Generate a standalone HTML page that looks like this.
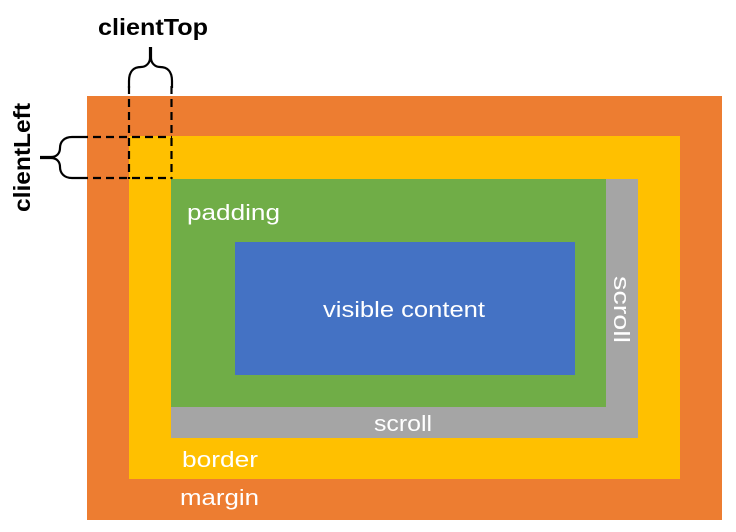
<!DOCTYPE html>
<html><head><meta charset="utf-8"><style>
html,body{margin:0;padding:0;background:#fff;}
svg{display:block;}
text{font-family:"Liberation Sans",sans-serif;}
</style></head><body>
<svg width="736" height="532" viewBox="0 0 736 532" xmlns="http://www.w3.org/2000/svg">
<rect x="87" y="96" width="635" height="424" fill="#ED7D31"/>
<rect x="129" y="136" width="551" height="343" fill="#FFC000"/>
<rect x="171" y="179" width="435" height="228" fill="#70AD47"/>
<rect x="606" y="179" width="32" height="259" fill="#A5A5A5"/>
<rect x="171" y="407" width="467" height="31" fill="#A5A5A5"/>
<rect x="235" y="242" width="340" height="133" fill="#4472C4"/>
<g stroke="#000" stroke-width="2.2" fill="none" stroke-dasharray="8,5">
<line x1="129" y1="86" x2="129" y2="179"/>
<line x1="171.5" y1="86" x2="171.5" y2="179"/>
<line x1="80" y1="137" x2="172" y2="137"/>
<line x1="80" y1="178" x2="172" y2="178"/>
</g>
<g stroke="#000" stroke-width="2.2" fill="none">
<path d="M129,88 V81 C129,71 134,67 141,67 C146,67 150,63 150,58 V47"/>
<path d="M172,88 V81 C172,71 167,67 160,67 C155,67 151,63 151,58 V47"/>
<path d="M80,137 H72 C64,137 60,142 60,148 C60,153 57,157 51,157 H40"/>
<path d="M80,178 H72 C64,178 60,173 60,167 C60,162 57,158 51,158 H40"/>
</g>
<text x="98" y="35" font-size="23" font-weight="bold" textLength="110" lengthAdjust="spacingAndGlyphs" fill="#000">clientTop</text>
<text transform="translate(30,212) rotate(-90)" font-size="23" font-weight="bold" textLength="109" lengthAdjust="spacingAndGlyphs" fill="#000">clientLeft</text>
<g fill="#fff" font-size="22">
<text x="187" y="220" textLength="93" lengthAdjust="spacingAndGlyphs">padding</text>
<text x="323" y="317" textLength="162" lengthAdjust="spacingAndGlyphs">visible content</text>
<text x="374" y="431" textLength="58" lengthAdjust="spacingAndGlyphs">scroll</text>
<text x="182" y="467" textLength="76" lengthAdjust="spacingAndGlyphs">border</text>
<text x="180" y="505" textLength="79" lengthAdjust="spacingAndGlyphs">margin</text>
<text transform="translate(614,276) rotate(90)" textLength="67" lengthAdjust="spacingAndGlyphs">scroll</text>
</g>
</svg>
</body></html>
